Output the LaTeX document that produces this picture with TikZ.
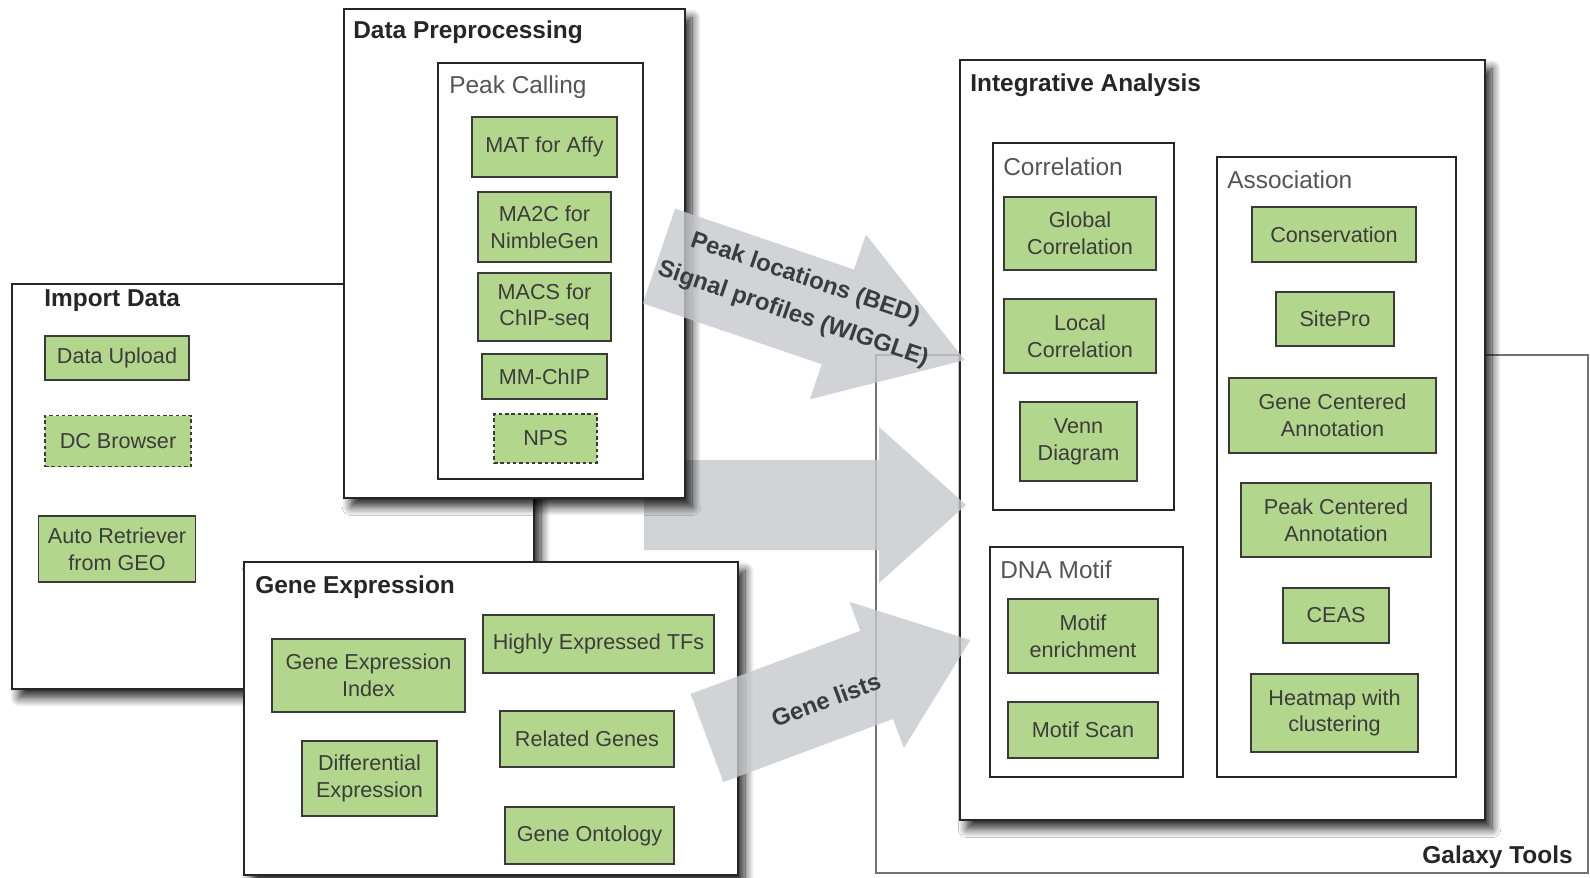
\documentclass[tikz,border=0pt]{standalone}
\usepackage{fontspec}
\setmainfont{Liberation Sans}
\usetikzlibrary{fit,shadows.blur}

\definecolor{verdetool}{HTML}{B2D68B}
\definecolor{bordotool}{HTML}{3A3A3A}
\definecolor{inchiostro}{HTML}{262626}
\definecolor{grigiotesto}{HTML}{3C3C3C}
\definecolor{grigiosotto}{HTML}{555555}
\definecolor{grigiofreccia}{RGB}{199,200,204}

\tikzset{
    panel/.style={draw=inchiostro, line width=1pt, fill=white, inner sep=0pt},
    ombra/.style={blur shadow={shadow xshift=4pt, shadow yshift=-5pt,
        shadow blur radius=5pt, shadow blur steps=12, shadow opacity=85}},
    paneltitle/.style={inner sep=0pt, anchor=west, text=inchiostro,
        font=\bfseries\fontsize{13.9}{16}\selectfont},
    subtitle/.style={inner sep=0pt, anchor=west, text=grigiosotto,
        font=\fontsize{13.9}{16}\selectfont},
    tool/.style 2 args={draw=bordotool, line width=1pt, fill=verdetool,
        text=grigiotesto, align=center, inner sep=0pt,
        minimum width=#1*0.02cm, minimum height=#2*0.02cm,
        font=\fontsize{12.3}{15.2}\selectfont},
    optional/.style={dash pattern=on 2pt off 1.6pt},
    bigarrow/.style={fill=grigiofreccia, fill opacity=0.8},
    arrowlabel/.style={text=grigiotesto, align=center, inner sep=0pt,
        font=\bfseries\fontsize{13.6}{21.4}\selectfont}
}

% freccia piena: coda (x,y), angolo, lunghezza, mezza asta, mezza punta, lunghezza punta
\newcommand{\blockarrow}[7]{%
    \fill[bigarrow, shift={(#1,#2)}, rotate=#3]
        (0,-#5) -- ({#4-#7},-#5) -- ({#4-#7},-#6) -- (#4,0)
        -- ({#4-#7},#6) -- ({#4-#7},#5) -- (0,#5) -- cycle;}

\begin{document}
\begin{tikzpicture}[x=0.02cm, y=-0.02cm]
        \useasboundingbox (0,0) rectangle (1590,877);

        %%%%%%%%%% Galaxy %%%%%%%%%%
        \node[panel, draw=black!55, line width=0.7pt, fit={(876,355) (1588,873)}] (galaxy) {};
        \node[paneltitle, anchor=east] (galaxytitle) at (1573,857) {Galaxy Tools};

        %%%%%%%%%% Integrative Analysis %%%%%%%%%%
        \node[panel, ombra, fit={(960,60) (1485,820)}] (integr) {};
        \node[paneltitle] (integrtitle) at (970,85) {Integrative Analysis};

        \node[panel, fit={(993,143) (1174,510)}] (corr) {};
        \node[subtitle] (corrtitle) at (1003,167) {Correlation};
        \node[tool={152}{73}] (globcorr) at (1080,233.5) {Global\\Correlation};
        \node[tool={152}{74}] (loccorr) at (1080,336) {Local\\Correlation};
        \node[tool={117}{79}] (venn) at (1078.5,441.5) {Venn\\Diagram};

        \node[panel, fit={(990,547) (1183,777)}] (motif) {};
        \node[subtitle] (motiftitle) at (1000,570) {DNA Motif};
        \node[tool={150}{74}] (enrich) at (1083,636) {Motif\\enrichment};
        \node[tool={150}{56}] (scan) at (1083,730) {Motif Scan};

        \node[panel, fit={(1217,157) (1456,777)}] (assoc) {};
        \node[subtitle] (assoctitle) at (1227,180) {Association};
        \node[tool={164}{55}] (conserv) at (1334,234.5) {Conservation};
        \node[tool={118}{54}] (sitepro) at (1335,319) {SitePro};
        \node[tool={207}{75}] (geneann) at (1332.5,415.5) {Gene Centered\\Annotation};
        \node[tool={190}{74}] (peakann) at (1336,520) {Peak Centered\\Annotation};
        \node[tool={106}{55}] (ceas) at (1336,615.5) {CEAS};
        \node[tool={167}{78}] (heatmap) at (1334.5,713) {Heatmap with\\clustering};

        %%%%%%%%%% Import Data %%%%%%%%%%
        \node[panel, ombra, fit={(12,284) (534,689)}] (import) {};
        \node[paneltitle] (importtitle) at (44,301) {Import Data};
        \node[tool={144}{44}] (upload) at (117,358) {Data Upload};
        \node[tool={146}{51}, optional] (dcbrowser) at (118,441) {DC Browser};
        \node[tool={157}{66}] (geo) at (117,549) {Auto Retriever\\from GEO};

        %%%%%%%%% Frecce %%%%%%%%%
        \blockarrow{644}{505}{0}{322}{45}{78}{87}

        %%%%%%%%%% Data Preprocessing %%%%%%%%%%
        \node[panel, ombra, fit={(344,9) (685,498)}] (prep) {};
        \node[paneltitle] (preptitle) at (353,32) {Data Preprocessing};

        \node[panel, fit={(438,63) (643,479)}] (peak) {};
        \node[subtitle] (peaktitle) at (449,87) {Peak Calling};
        \node[tool={145}{60}] (mat) at (544.5,147) {MAT for Affy};
        \node[tool={133}{70}] (ma2c) at (544.5,227) {MA2C for\\NimbleGen};
        \node[tool={133}{68}] (macs) at (544.5,307) {MACS for\\ChIP-seq};
        \node[tool={125}{45}] (mmchip) at (544.5,376.5) {MM-ChIP};
        \node[tool={103}{49}, optional] (nps) at (545.5,438.5) {NPS};

        %%%%%%%%%% Gene Expression %%%%%%%%%%
        \node[panel, ombra, fit={(244,562) (738,875)}] (expr) {};
        \node[paneltitle] (exprtitle) at (255,587) {Gene Expression};
        \node[tool={193}{73}] (index) at (368.5,675.5) {Gene Expression\\Index};
        \node[tool={231}{58}] (tfs) at (598.5,644) {Highly Expressed TFs};
        \node[tool={135}{75}] (diff) at (369.5,778.5) {Differential\\Expression};
        \node[tool={174}{56}] (related) at (587,739) {Related Genes};
        \node[tool={169}{57}] (ontology) at (589.5,835.5) {Gene Ontology};

        %%%%%%%%% Frecce %%%%%%%%%
        \blockarrow{659}{256}{-18.8}{323}{50}{87}{134}
        \blockarrow{707}{738}{20.4}{281}{47}{78}{100}

        \node[arrowlabel, rotate=-18.8] (peaklabel) at (799,297) {Peak locations (BED)\\Signal profiles (WIGGLE)};
        \node[arrowlabel, rotate=20.4] (genelabel) at (826,700) {Gene lists};
\end{tikzpicture}
\end{document}
